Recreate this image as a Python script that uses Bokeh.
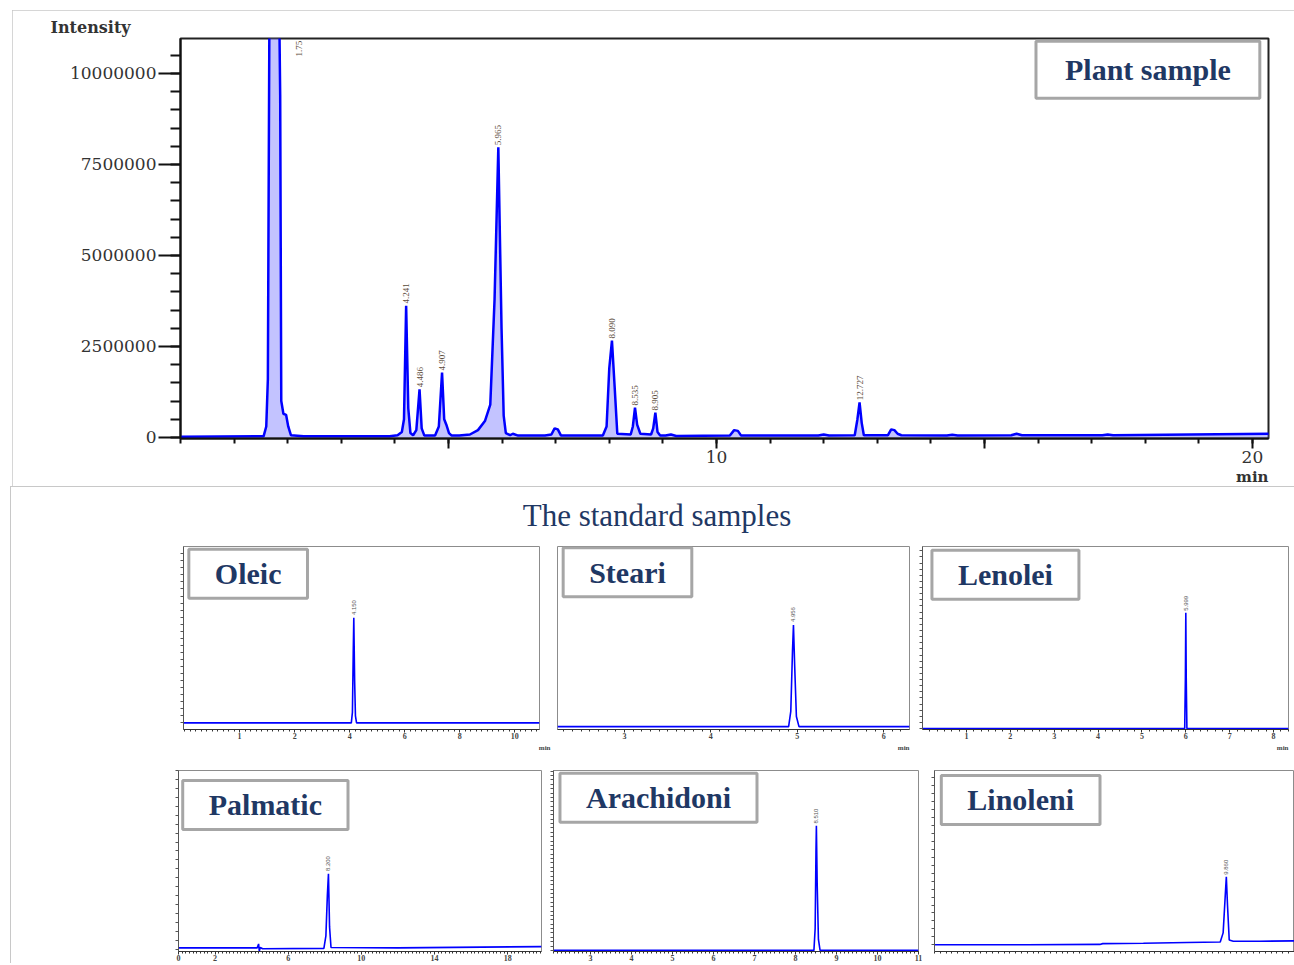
import math
from bokeh.plotting import figure
from bokeh.models import Range1d, FixedTicker, NumeralTickFormatter, Label, Div, Spacer, Title
from bokeh.layouts import column, row
from bokeh.embed import file_html
from bokeh.resources import INLINE
from bokeh.core.properties import value

# ---------------- data: plant sample chromatogram ----------------
main_time = [0.0, 1.55, 1.60, 1.63, 1.66, 1.84, 1.86, 1.88, 1.92, 1.97, 2.01, 2.06, 2.3,
             3.9, 4.05, 4.13, 4.17, 4.21, 4.25, 4.29, 4.34, 4.40, 4.46, 4.50, 4.55,
             4.75, 4.82, 4.88, 4.92, 4.96, 5.01, 5.06,
             5.2, 5.4, 5.55, 5.68, 5.78, 5.86, 5.93, 5.99, 6.03, 6.07, 6.15, 6.2, 6.3,
             6.8, 6.92, 6.98, 7.04, 7.10,
             7.88, 7.95, 8.00, 8.05, 8.10, 8.15, 8.40, 8.44, 8.48, 8.52, 8.58,
             8.78, 8.82, 8.86, 8.90, 8.95, 9.05, 9.15, 9.25,
             10.25, 10.33, 10.40, 10.46, 11.9, 12.0, 12.1,
             12.58, 12.63, 12.67, 12.71, 12.75, 13.2, 13.26, 13.32, 13.38, 13.45,
             14.3, 14.4, 14.5, 15.5, 15.6, 15.7, 17.2, 17.3, 17.4, 20.33]
main_intensity = [0.02e6, 0.03e6, 0.3e6, 1.6e6, 12e6, 12e6, 9.4e6, 1.0e6, 0.65e6, 0.62e6, 0.3e6, 0.06e6, 0.03e6,
                  0.03e6, 0.06e6, 0.15e6, 0.5e6, 3.62e6, 0.8e6, 0.12e6, 0.06e6, 0.2e6, 1.32e6, 0.25e6, 0.05e6,
                  0.05e6, 0.3e6, 1.78e6, 0.5e6, 0.35e6, 0.12e6, 0.05e6,
                  0.05e6, 0.08e6, 0.2e6, 0.45e6, 0.9e6, 3.8e6, 7.97e6, 3.0e6, 0.6e6, 0.12e6, 0.06e6, 0.1e6, 0.05e6,
                  0.05e6, 0.08e6, 0.25e6, 0.22e6, 0.05e6,
                  0.05e6, 0.3e6, 1.9e6, 2.66e6, 1.4e6, 0.1e6, 0.08e6, 0.3e6, 0.82e6, 0.35e6, 0.1e6,
                  0.08e6, 0.25e6, 0.68e6, 0.15e6, 0.05e6, 0.05e6, 0.08e6, 0.04e6,
                  0.05e6, 0.2e6, 0.18e6, 0.05e6, 0.05e6, 0.08e6, 0.05e6,
                  0.06e6, 0.5e6, 0.96e6, 0.4e6, 0.06e6, 0.06e6, 0.22e6, 0.2e6, 0.1e6, 0.06e6,
                  0.05e6, 0.07e6, 0.05e6, 0.06e6, 0.1e6, 0.06e6, 0.06e6, 0.08e6, 0.06e6, 0.1e6]
assert len(main_time) == len(main_intensity)

peak_labels = ["4.241", "4.486", "4.907", "5.965", "8.090", "8.535", "8.905", "12.727"]
peak_time = [4.21, 4.46, 4.88, 5.93, 8.05, 8.48, 8.86, 12.67]
peak_height = [3.62e6, 1.32e6, 1.78e6, 7.97e6, 2.66e6, 0.82e6, 0.68e6, 0.96e6]
top_peak_label = ["1.75"]
top_peak_time = [2.22]
top_peak_y = [10.9e6]

y_major = [0, 2500000, 5000000, 7500000, 10000000]
x_major = [5, 10, 15, 20]
x_major_labels = ["", "10", "", "20"]

# ---------------- data: standard samples ----------------
oleic_time = [-2.04, 4.06, 4.10, 4.13, 4.15, 4.18, 4.21, 4.25, 10.9]
oleic_signal = [0, 0, 1.5, 10.0, 14.9, 6.0, 1.0, 0, 0]
steari_time = [2.225, 4.90, 4.925, 4.945, 4.956, 4.97, 4.99, 5.02, 6.3]
steari_signal = [0, 0, 0.15, 0.75, 1.0, 0.6, 0.1, 0, 0]
lenolei_time = [0, 5.975, 5.99, 6.0, 6.01, 6.025, 8.34]
lenolei_signal = [0, 0, 8.0, 18.9, 8.0, 0, 0]
palm_time = [0, 4.30, 4.38, 4.42, 4.47, 4.60, 7.95, 8.06, 8.14, 8.20, 8.26, 8.34, 12.0, 19.85]
palm_signal = [0.03, 0.03, 0.12, -0.04, 0.04, 0.01, 0.02, 0.3, 1.2, 1.69, 0.5, 0.04, 0.03, 0.06]
arach_time = [2.1, 8.45, 8.48, 8.50, 8.51, 8.53, 8.56, 8.60, 11.0]
arach_signal = [0, 0, 1.0, 4.5, 5.7, 3.0, 0.5, 0, 0]
linol_time = [-0.2, 3.0, 5.5, 5.6, 7.0, 8.5, 9.65, 9.75, 9.82, 9.86, 9.90, 9.96, 10.1, 11.0, 12.21]
linol_signal = [0, 0, 0.05, 0.15, 0.2, 0.3, 0.35, 1.5, 6.0, 8.55, 5.0, 0.6, 0.45, 0.45, 0.5]

NAVY = "#1F3864"
BLUE = "#0000FF"
TICK_FONT = "DejaVu Serif"
BOX_FONT = "Liberation Serif"

# ---------------- main figure ----------------
p = figure(width=1282, height=476, x_range=Range1d(0, 20.3), y_range=Range1d(-0.03e6, 10.96e6),
           output_backend="svg", toolbar_location=None, title="Intensity",
           min_border_left=168, min_border_right=26, min_border_top=28, min_border_bottom=48)
p.grid.visible = False
p.outline_line_color = "#222222"
p.outline_line_width = 2
p.styles = {"outline": "1px solid #c8c8c8", "outline-offset": "-1px"}
p.title.align = "left"
p.title.offset = -130
p.title.standoff = 4
p.title.text_font = TICK_FONT
p.title.text_font_style = "bold"
p.title.text_font_size = "16px"
p.title.text_color = "#333333"

p.varea(x=main_time, y1=0, y2=main_intensity, fill_color="#7a7aff", fill_alpha=0.45)
p.line(main_time, main_intensity, line_color=BLUE, line_width=2.5)

p.text(x=peak_time, y=[h + 0.06e6 for h in peak_height], text=peak_labels, angle=math.pi / 2,
       text_font=value("Liberation Serif"), text_font_size="9px", text_color="#5a4a3a",
       text_align="left", text_baseline="middle")
p.text(x=top_peak_time, y=top_peak_y, text=top_peak_label, angle=math.pi / 2,
       text_font=value("Liberation Serif"), text_font_size="9px", text_color="#5a4a3a",
       text_align="right", text_baseline="middle")

xa = p.xaxis[0]
xa.ticker = FixedTicker(ticks=x_major, minor_ticks=list(range(0, 21)))
xa.major_label_overrides = dict(zip(x_major, x_major_labels))
ya = p.yaxis[0]
ya.ticker = FixedTicker(ticks=y_major, minor_ticks=[i * 500000 for i in range(0, 22)])
ya.formatter = NumeralTickFormatter(format="0")
for ax, mo, mi in ((xa, 10, 5), (ya, 22, 10)):
    ax.axis_line_width = 2
    ax.axis_line_color = "#111111"
    ax.major_tick_line_width = 2
    ax.minor_tick_line_width = 2
    ax.major_tick_line_color = "#111111"
    ax.minor_tick_line_color = "#111111"
    ax.major_tick_in = 0
    ax.minor_tick_in = 0
    ax.major_tick_out = mo
    ax.minor_tick_out = mi
    ax.major_label_text_font = TICK_FONT
    ax.major_label_text_font_size = "17px"
    ax.major_label_text_color = "#333333"
    ax.major_label_standoff = 2

p.add_layout(Title(text="min", align="right", standoff=0, text_font=TICK_FONT, text_font_style="bold",
                   text_font_size="15px", text_color="#333333"), "below")
p.add_layout(Label(x=18.05, y=10.1e6, text="Plant sample", text_font=BOX_FONT, text_font_style="bold",
                   text_font_size="30px", text_color=NAVY, text_align="center", text_baseline="middle",
                   background_fill_color="white", border_line_color="#a6a6a6", border_line_width=3,
                   padding=dict(left=29, right=29, top=12, bottom=12)))


def panel(name, t, s, xr, yr, width, height, borders, xticks, xlabels, xminor, yminor,
          box_xy, peak_xy, peak_text, min_offset=None, show_y=True):
    lb, rb, tb, bb = borders
    f = figure(width=width, height=height, x_range=Range1d(*xr), y_range=Range1d(*yr),
               output_backend="svg", toolbar_location=None, title=None,
               min_border_left=lb, min_border_right=rb, min_border_top=tb, min_border_bottom=bb)
    f.grid.visible = False
    f.outline_line_color = "#8c8c8c"
    f.outline_line_width = 1
    f.line(t, s, line_color=BLUE, line_width=1.6)
    f.text(x=[peak_xy[0]], y=[peak_xy[1]], text=[peak_text], angle=math.pi / 2,
           text_font=value("Liberation Sans"), text_font_size="6px", text_color="#555555",
           text_align="left", text_baseline="middle")
    ax = f.xaxis[0]
    ax.ticker = FixedTicker(ticks=xticks, minor_ticks=xminor)
    if xticks:
        ax.major_label_overrides = dict(zip(xticks, xlabels))
    ax.axis_line_color = "#333333"
    ax.major_tick_line_color = "#333333"
    ax.minor_tick_line_color = "#333333"
    ax.major_tick_in = 0
    ax.minor_tick_in = 0
    ax.major_tick_out = 3
    ax.minor_tick_out = 2
    ax.major_label_standoff = 0
    ax.major_label_text_font = BOX_FONT
    ax.major_label_text_font_style = "bold"
    ax.major_label_text_font_size = "8px"
    ax.major_label_text_color = "#444444"
    yax = f.yaxis[0]
    if show_y:
        yax.ticker = FixedTicker(ticks=[], minor_ticks=yminor)
        yax.axis_line_color = "#555555"
        yax.minor_tick_line_color = "#555555"
        yax.minor_tick_in = 0
        yax.minor_tick_out = 3
    else:
        yax.visible = False
    f.add_layout(Label(x=box_xy[0], y=box_xy[1], text=name, text_font=BOX_FONT, text_font_style="bold",
                       text_font_size="30px", text_color=NAVY, text_align="center", text_baseline="middle",
                       background_fill_color="white", border_line_color="#a6a6a6", border_line_width=3,
                       padding=dict(left=26, right=26, top=8, bottom=8)))
    if min_offset is not None:
        f.add_layout(Title(text="min", align="right", offset=min_offset, standoff=0, text_font=BOX_FONT,
                           text_font_style="bold", text_font_size="7px", text_color="#444444"), "below")
    return f


oleic = panel("Oleic", oleic_time, oleic_signal, (-2.04, 10.9), (-0.94, 25.03), 414, 218, (45, 13, 6, 18),
              [0, 2, 4, 6, 8, 10], ["1", "2", "4", "6", "8", "10"], [k * 0.2 for k in range(-10, 55)],
              list(range(0, 25)), (0.31, 21.15), (4.15, 15.3), "4.150", -11)
steari = panel("Steari", steari_time, steari_signal, (2.225, 6.299), (-0.028, 1.774), 363, 218, (5, 6, 5, 22),
               [3, 4, 5, 6], ["3", "4", "5", "6"], [k * 0.1 for k in range(23, 63)],
               [], (3.035, 1.52), (4.956, 1.03), "4.956", 0, show_y=False)
lenolei = panel("Lenolei", lenolei_time, lenolei_signal, (0, 8.34), (-0.15, 29.7), 379, 218, (7, 6, 5, 29),
                [1, 2, 3, 4, 5, 6, 7, 8], ["1", "2", "3", "4", "5", "6", "7", "8"], [k / 6 for k in range(1, 51)],
                list(range(0, 30)), (1.89, 25.1), (6.0, 19.2), "5.999", 0)
palm = panel("Palmatic", palm_time, palm_signal, (0, 19.85), (-0.05, 4.0), 407, 205, (40, 4, 9, 11),
             [0, 2, 6, 10, 14, 18], ["0", "2", "6", "10", "14", "18"], [k * 0.2 for k in range(0, 100)],
             [k * 0.2 for k in range(0, 21)], (4.75, 3.23), (8.2, 1.75), "8.200")
arach = panel("Arachidoni", arach_time, arach_signal, (2.1, 11.0), (-0.05, 8.23), 377, 205, (8, 4, 12, 11),
              [3, 4, 5, 6, 7, 8, 9, 10, 11], ["3", "4", "5", "6", "7", "8", "9", "10", "11"],
              [k * 0.1 for k in range(21, 111)], [k * 0.2 for k in range(0, 42)],
              (4.66, 6.98), (8.51, 5.8), "8.510")
linol = panel("Linoleni", linol_time, linol_signal, (-0.2, 12.21), (-0.84, 21.9), 372, 205, (12, 0, 12, 4),
              [], [], [k * 0.2 for k in range(-1, 62)], list(range(0, 22)),
              (2.77, 18.2), (9.86, 8.8), "9.860")

title_div = Div(text='<div style="width:1284px;text-align:center;">'
                     '<div style="display:inline-block;padding-left:10px;padding-top:11px;'
                     'font-family:\'Liberation Serif\';font-size:31px;line-height:38px;color:#1F3864;">'
                     'The standard samples</div></div>',
                width=1284, height=54, margin=0, styles={"text-align": "center"})

row1 = row(Spacer(width=128, height=218), oleic, steari, lenolei, spacing=0)
row2 = row(Spacer(width=128, height=205), palm, arach, linol, spacing=0)
bottom = column(title_div, row1, row2, spacing=0,
                styles={"box-shadow": "inset 1px 1px 0 #c8c8c8"})
layout = column(Spacer(width=1294, height=10),
                row(Spacer(width=12, height=476), p, spacing=0),
                row(Spacer(width=10, height=477), bottom, spacing=0),
                spacing=0)

open("out.html", "w").write(file_html(layout, INLINE))
